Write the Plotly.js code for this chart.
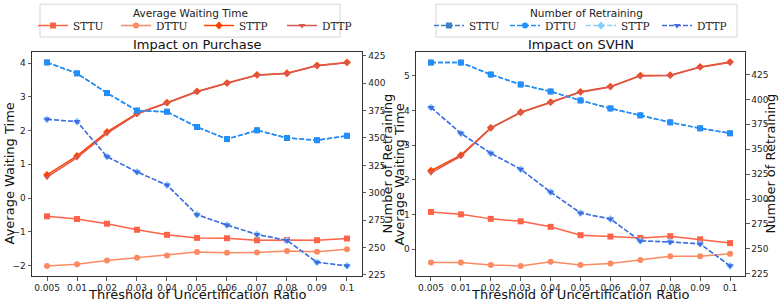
<!DOCTYPE html>
<html>
<head>
<meta charset="utf-8">
<script src="https://cdn.plot.ly/plotly-3.0.1.min.js"></script>
<style>html,body{margin:0;padding:0;background:#fff;}#chart{width:781px;height:305px;}</style>
</head>
<body>
<div id="chart"></div>
<script>
// ---- data ----
const thresholds = ['0.005','0.01','0.02','0.03','0.04','0.05','0.06','0.07','0.08','0.09','0.1'];
const seriesNames = ['STTU','DTTU','STTP','DTTP'];

// Purchase: Average Waiting Time
const purchaseWaitSTTU = [-0.54,-0.62,-0.76,-0.94,-1.09,-1.18,-1.19,-1.25,-1.24,-1.25,-1.20];
const purchaseWaitDTTU = [-2.01,-1.96,-1.85,-1.77,-1.70,-1.60,-1.62,-1.61,-1.57,-1.59,-1.52];
const purchaseWaitSTTP = [0.69,1.25,1.96,2.51,2.83,3.16,3.41,3.65,3.70,3.93,4.02];
const purchaseWaitDTTP = [0.62,1.20,1.92,2.49,2.82,3.15,3.40,3.64,3.69,3.92,4.01];
// Purchase: Number of Retraining
const purchaseRetrainSTTU = [419,409,391,375,374,360,349,357,350,348,352];
const purchaseRetrainDTTU = [419,409,391,375,374,360,349,357,350,348,352];
const purchaseRetrainSTTP = [367,365,333,319,307,280,270.5,262,256.5,236.5,233.3];
const purchaseRetrainDTTP = [367,365,333,319,307,280,270.5,262,256.5,236.5,233.3];

// SVHN: Average Waiting Time
const svhnWaitSTTU = [1.07,1.00,0.87,0.80,0.64,0.40,0.36,0.32,0.37,0.28,0.17];
const svhnWaitDTTU = [-0.39,-0.39,-0.46,-0.49,-0.37,-0.46,-0.42,-0.32,-0.21,-0.21,-0.14];
const svhnWaitSTTP = [2.26,2.71,3.50,3.95,4.24,4.54,4.69,5.01,5.02,5.26,5.40];
const svhnWaitDTTP = [2.20,2.68,3.49,3.94,4.23,4.53,4.68,5.00,5.01,5.25,5.39];
// SVHN: Number of Retraining
const svhnRetrainSTTU = [437,437,425,415,408,399,391,384,377,371,366];
const svhnRetrainDTTU = [437,437,425,415,408,399,391,384,377,371,366];
const svhnRetrainSTTP = [392,366,346,330,307,286,280,258,257,255,233];
const svhnRetrainDTTP = [392,366,346,330,307,286,280,258,257,255,233];

const titles = ['Impact on Purchase','Impact on SVHN'];
const waitTitle = 'Average Waiting Time';
const retrainTitle = 'Number of Retraining';
const xTitle = 'Threshold of Uncertification Ratio';

// ---- styles ----
const waitColors = ['#ff6347','#fb8a62','#ff4500','#d9574f'];
const retrainColors = ['#3f7fc6','#1e90ff','#87cefa','#4169e1'];
const symbols = ['square','circle','diamond','triangle-down'];

const waitData = [
  [purchaseWaitSTTU,purchaseWaitDTTU,purchaseWaitSTTP,purchaseWaitDTTP],
  [svhnWaitSTTU,svhnWaitDTTU,svhnWaitSTTP,svhnWaitDTTP]
];
const retrainData = [
  [purchaseRetrainSTTU,purchaseRetrainDTTU,purchaseRetrainSTTP,purchaseRetrainDTTP],
  [svhnRetrainSTTU,svhnRetrainDTTU,svhnRetrainSTTP,svhnRetrainDTTP]
];

const axes = [
  {x:'x', yl:'y', yr:'y2'},
  {x:'x2', yl:'y3', yr:'y4'}
];

const traces = [];
for (let p = 0; p < 2; p++) {
  for (let i = 0; i < 4; i++) {
    traces.push({
      x: thresholds, y: waitData[p][i], name: seriesNames[i],
      xaxis: axes[p].x, yaxis: axes[p].yl, type: 'scatter', mode: 'lines+markers',
      line: {color: waitColors[i], width: 1.5},
      marker: {symbol: symbols[i], size: 6, color: waitColors[i]},
      legend: 'legend', showlegend: p === 0
    });
  }
  for (let i = 0; i < 4; i++) {
    traces.push({
      x: thresholds, y: retrainData[p][i], name: seriesNames[i],
      xaxis: axes[p].x, yaxis: axes[p].yr, type: 'scatter', mode: 'lines+markers',
      line: {color: retrainColors[i], width: 1.5, dash: '5px,2px'},
      marker: {symbol: symbols[i], size: 6, color: retrainColors[i]},
      legend: 'legend2', showlegend: p === 0
    });
  }
}

const axBase = {
  showgrid: false, zeroline: false, showline: true, linecolor: '#333', linewidth: 1,
  ticks: 'outside', ticklen: 3.5, tickwidth: 0.8, tickcolor: '#333',
  tickfont: {family: 'DejaVu Sans', size: 9, color: '#222'}
};
const titleFont = {family: 'DejaVu Sans', size: 13, color: '#111'};

const d1 = [0, 0.4628], d2 = [0.5386, 1];
// pixel helpers for paper coords (plot area: x 32..745, y 51..276)
const px = p => (p - 32) / 713;
const py = p => (276 - p) / 225;

const legendBase = {
  orientation: 'h', xanchor: 'left', yanchor: 'top', y: py(11),
  font: {family: 'DejaVu Serif', size: 10.5, color: '#222'},
  borderwidth: 0, bgcolor: 'rgba(0,0,0,0)'
};

function axTitle(text, xPix, yPix, angle) {
  return {text: text, xref: 'paper', yref: 'paper', x: px(xPix), y: py(yPix), xanchor: 'center', yanchor: 'middle',
    textangle: angle, showarrow: false, font: titleFont};
}

const layout = {
  width: 781, height: 305,
  margin: {l: 32, r: 36, t: 51, b: 29},
  paper_bgcolor: '#fff', plot_bgcolor: '#fff',
  font: {family: 'DejaVu Sans', size: 9, color: '#222'},
  xaxis: Object.assign({}, axBase, {domain: d1, anchor: 'y', type: 'category', range: [-0.5, 10.5], mirror: true}),
  xaxis2: Object.assign({}, axBase, {domain: d2, anchor: 'y3', type: 'category', range: [-0.5, 10.5], mirror: true}),
  yaxis: Object.assign({}, axBase, {anchor: 'x', range: [-2.31, 4.33], dtick: 1}),
  yaxis2: Object.assign({}, axBase, {anchor: 'x', overlaying: 'y', side: 'right', range: [224, 428.5], dtick: 25}),
  yaxis3: Object.assign({}, axBase, {anchor: 'x2', range: [-0.78, 5.69], dtick: 1}),
  yaxis4: Object.assign({}, axBase, {anchor: 'x2', overlaying: 'y3', side: 'right', range: [222.8, 447.6], dtick: 25}),
  legend: Object.assign({}, legendBase, {x: px(33), entrywidth: 38}),
  legend2: Object.assign({}, legendBase, {x: px(429), entrywidth: 31}),
  shapes: [
    {type: 'rect', xref: 'paper', yref: 'paper', x0: px(40), x1: px(340), y0: py(36), y1: py(3),
     line: {color: '#d6d6d6', width: 1}, fillcolor: 'rgba(255,255,255,0.8)', layer: 'below'},
    {type: 'rect', xref: 'paper', yref: 'paper', x0: px(436), x1: px(737), y0: py(36), y1: py(3),
     line: {color: '#d6d6d6', width: 1}, fillcolor: 'rgba(255,255,255,0.8)', layer: 'below'}
  ],
  annotations: [
    {text: titles[0], xref: 'paper', yref: 'paper', x: (d1[0]+d1[1])/2, y: 1, xanchor: 'center', yanchor: 'bottom',
     showarrow: false, font: {family: 'DejaVu Sans', size: 13, color: '#111'}, yshift: -2},
    {text: titles[1], xref: 'paper', yref: 'paper', x: (d2[0]+d2[1])/2, y: 1, xanchor: 'center', yanchor: 'bottom',
     showarrow: false, font: {family: 'DejaVu Sans', size: 13, color: '#111'}, yshift: -2},
    {text: waitTitle, xref: 'paper', yref: 'paper', x: px(190), y: py(12), xanchor: 'center', yanchor: 'middle',
     showarrow: false, font: {family: 'DejaVu Sans', size: 10.5, color: '#222'}},
    {text: retrainTitle, xref: 'paper', yref: 'paper', x: px(586.5), y: py(12), xanchor: 'center', yanchor: 'middle',
     showarrow: false, font: {family: 'DejaVu Sans', size: 10.5, color: '#222'}},
    axTitle(xTitle, 197, 294.5, 0),
    axTitle(xTitle, 580.5, 294.5, 0),
    axTitle(waitTitle, 9, 173, -90),
    axTitle(retrainTitle, 388, 163, -90),
    axTitle(waitTitle, 399, 174, -90),
    axTitle(retrainTitle, 771, 163, -90)
  ]
};

Plotly.newPlot('chart', traces, layout, {displayModeBar: false, staticPlot: true});
</script>
</body>
</html>
